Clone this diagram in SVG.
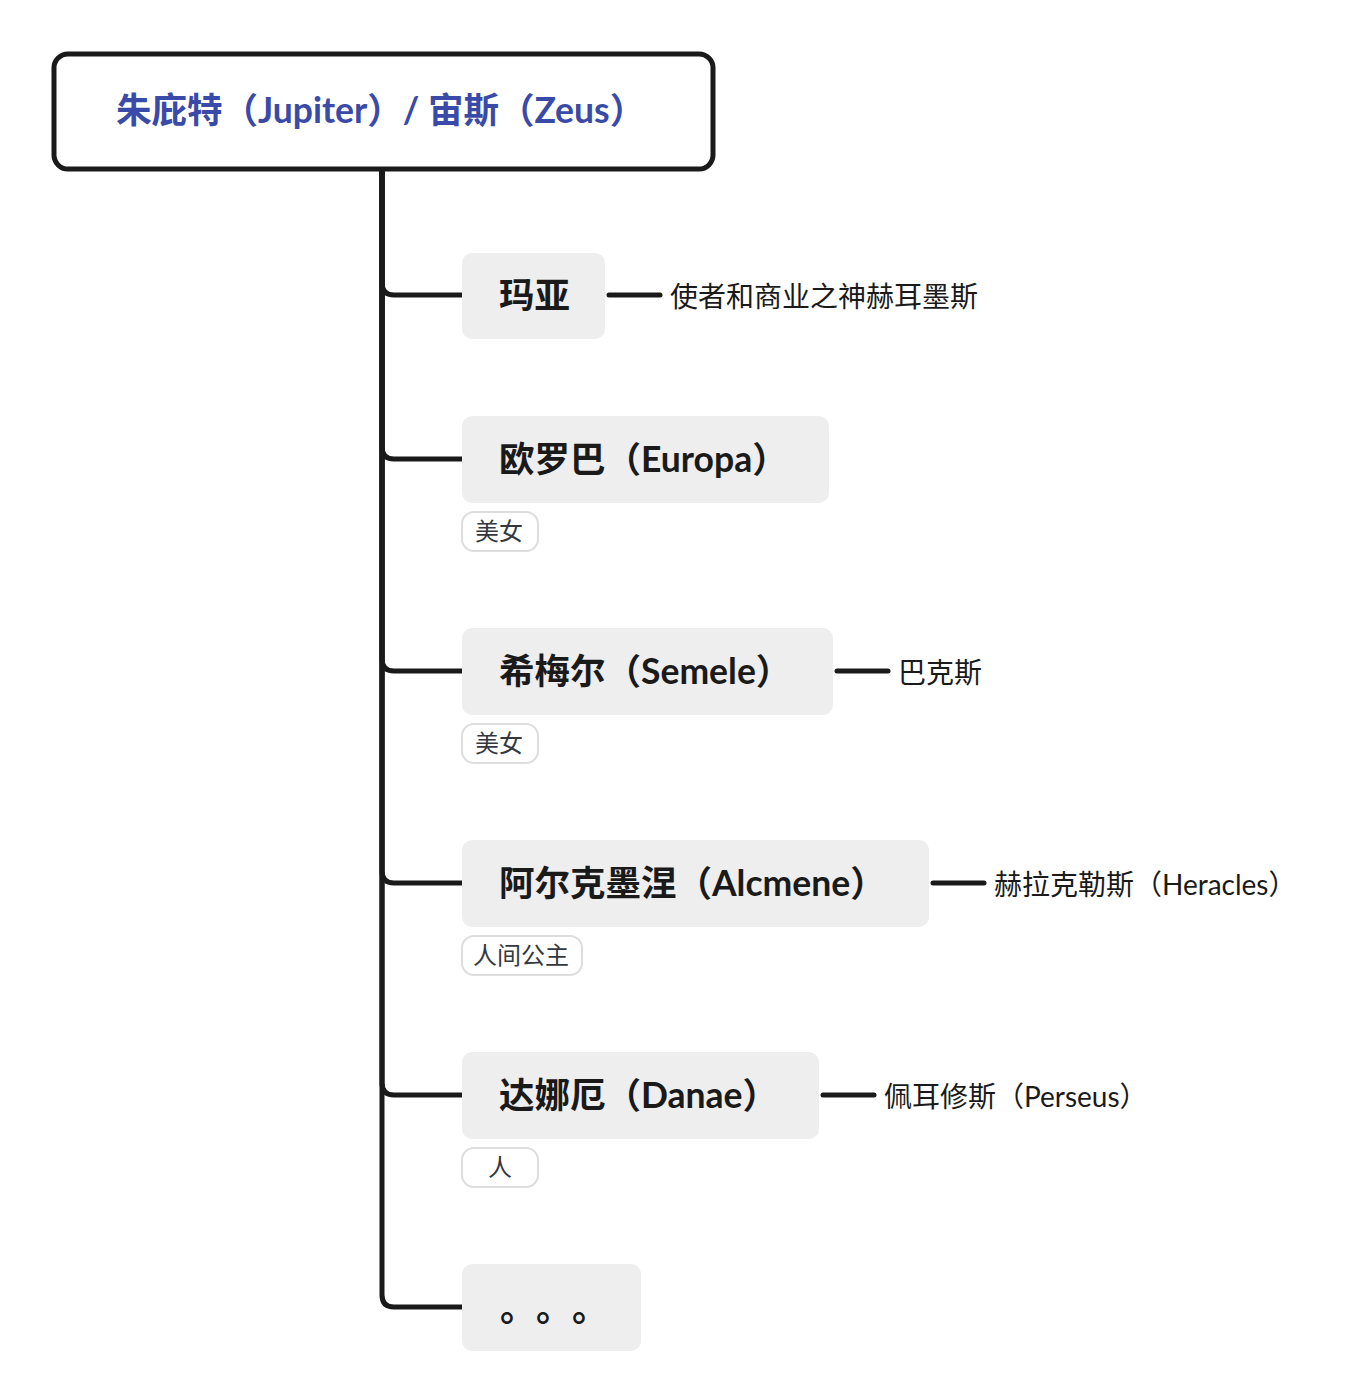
<svg xmlns="http://www.w3.org/2000/svg" width="1362" height="1400" viewBox="0 0 1362 1400">
<style>
.conn{fill:none;stroke:#1a1a1a;stroke-width:5;stroke-linecap:round;stroke-linejoin:round}
.node{fill:#eeeeee}
.ntxt{font-family:"Lato","Noto Sans CJK SC",sans-serif;font-weight:700;font-size:35.5px;fill:#1a1a1a}
.sub{font-family:"Lato","Noto Sans CJK SC",sans-serif;font-size:28px;fill:#1a1a1a}
.lbl{fill:#ffffff;stroke:#dddddd;stroke-width:2}
.ltxt{font-family:"Noto Sans CJK SC",sans-serif;font-size:24px;fill:#333840}
</style>
<rect width="1362" height="1400" fill="#ffffff"/>
<g id="connectors">
<path class="conn" d="M382,170 V283 Q382,295 394,295 H462"/>
<path class="conn" d="M382,170 V447 Q382,459 394,459 H462"/>
<path class="conn" d="M382,170 V659 Q382,671 394,671 H462"/>
<path class="conn" d="M382,170 V871 Q382,883 394,883 H462"/>
<path class="conn" d="M382,170 V1083 Q382,1095 394,1095 H462"/>
<path class="conn" d="M382,170 V1295 Q382,1307 394,1307 H462"/>
<path class="conn" d="M609,295 H660"/>
<path class="conn" d="M837,671 H888"/>
<path class="conn" d="M933,883 H984"/>
<path class="conn" d="M823,1095 H874"/>
</g>
<g id="root">
<rect x="54" y="54" width="659" height="115" rx="14" fill="#ffffff" stroke="#1a1a1a" stroke-width="5"/>
<text x="116" y="123" font-family="Lato,'Noto Sans CJK SC',sans-serif" font-weight="700" font-size="35.5" fill="#3a4aa8">朱庇特（Jupiter）/ 宙斯（Zeus）</text>
</g>
<g id="maya">
<rect class="node" x="462" y="253" width="143" height="86" rx="10"/>
<text class="ntxt" x="499" y="308">玛亚</text>
</g>
<g id="hermes"><text class="sub" x="670" y="307">使者和商业之神赫耳墨斯</text></g>
<g id="europa">
<rect class="node" x="462" y="416" width="367" height="87" rx="10"/>
<text class="ntxt" x="499" y="472">欧罗巴（Europa）</text>
<rect class="lbl" x="462" y="512" width="76" height="39" rx="12"/>
<text class="ltxt" x="475" y="540">美女</text>
</g>
<g id="semele">
<rect class="node" x="462" y="628" width="371" height="87" rx="10"/>
<text class="ntxt" x="499" y="684">希梅尔（Semele）</text>
<rect class="lbl" x="462" y="724" width="76" height="39" rx="12"/>
<text class="ltxt" x="475" y="752">美女</text>
</g>
<g id="bacchus"><text class="sub" x="898" y="683">巴克斯</text></g>
<g id="alcmene">
<rect class="node" x="462" y="840" width="467" height="87" rx="10"/>
<text class="ntxt" x="499" y="896">阿尔克墨涅（Alcmene）</text>
<rect class="lbl" x="462" y="936" width="120" height="39" rx="12"/>
<text class="ltxt" x="473" y="964">人间公主</text>
</g>
<g id="heracles"><text class="sub" x="994" y="895">赫拉克勒斯（Heracles）</text></g>
<g id="danae">
<rect class="node" x="462" y="1052" width="357" height="87" rx="10"/>
<text class="ntxt" x="499" y="1108">达娜厄（Danae）</text>
<rect class="lbl" x="462" y="1148" width="76" height="39" rx="12"/>
<text class="ltxt" x="488" y="1176">人</text>
</g>
<g id="perseus"><text class="sub" x="884" y="1107">佩耳修斯（Perseus）</text></g>
<g id="more">
<rect class="node" x="462" y="1264" width="179" height="87" rx="10"/>
<text x="500 536 572" y="1321" font-family="'Noto Sans CJK SC',sans-serif" font-weight="700" font-size="36" fill="#1a1a1a">。。。</text>
</g>
</svg>
